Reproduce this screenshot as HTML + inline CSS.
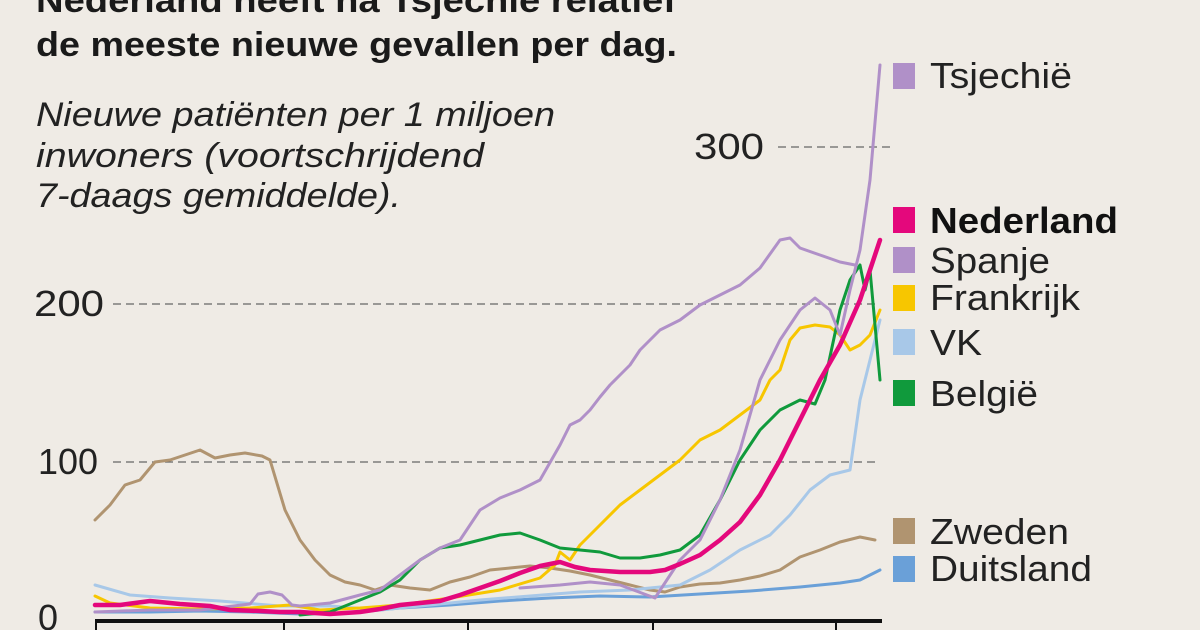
<!DOCTYPE html>
<html><head><meta charset="utf-8"><style>
body{margin:0;background:#efebe5;width:1200px;height:630px;overflow:hidden;font-family:"Liberation Sans",sans-serif}
</style></head><body>
<svg width="1200" height="630" viewBox="0 0 1200 630" xmlns="http://www.w3.org/2000/svg" style="position:absolute;left:0;top:0">
<rect width="1200" height="630" fill="#efebe5"/>
<g font-family="Liberation Sans, sans-serif" fill="#1a1a1a">
<text x="36" y="12" font-size="34" font-weight="bold" textLength="640" lengthAdjust="spacingAndGlyphs">Nederland heeft na Tsjechië relatief</text>
<text x="36" y="56" font-size="34" font-weight="bold" textLength="641" lengthAdjust="spacingAndGlyphs">de meeste nieuwe gevallen per dag.</text>
<g font-style="italic" font-size="34" fill="#222">
<text x="36" y="126" textLength="519" lengthAdjust="spacingAndGlyphs">Nieuwe patiënten per 1 miljoen</text>
<text x="36" y="167" textLength="448" lengthAdjust="spacingAndGlyphs">inwoners (voortschrijdend</text>
<text x="36" y="207" textLength="365" lengthAdjust="spacingAndGlyphs">7-daags gemiddelde).</text>
</g>
<g font-size="36" fill="#222">
<text x="694" y="159" textLength="70" lengthAdjust="spacingAndGlyphs">300</text>
<text x="34" y="316" textLength="70" lengthAdjust="spacingAndGlyphs">200</text>
<text x="38" y="474" textLength="60" lengthAdjust="spacingAndGlyphs">100</text>
<text x="38" y="630">0</text>
</g>
</g>
<g stroke="#666" stroke-width="1.3" stroke-dasharray="8,5" fill="none">
<line x1="778" y1="147" x2="892" y2="147"/>
<line x1="113" y1="304" x2="880" y2="304"/>
<line x1="113" y1="462" x2="880" y2="462"/>
</g>
<g fill="none" stroke-linejoin="round" stroke-linecap="round">
<polyline stroke="#b09470" stroke-width="3" points="95,520 110,505 125,485 140,480 155,462 170,460 185,455 200,450 215,458 230,455 245,453 262,456 270,460 285,510 300,540 315,560 330,575 345,582 360,585 375,590 390,585 410,588 430,590 450,582 470,577 490,570 510,568 530,566 550,568 570,571 590,575 610,580 630,585 650,590 665,592 680,587 700,584 720,583 740,580 760,576 780,570 800,557 820,550 840,542 860,537 875,540"/>
<polyline stroke="#6aa0d8" stroke-width="3" points="95,612 150,612 200,611 250,612 300,614 350,613 400,608 450,605 500,601 550,598 600,596 650,597 700,594 750,591 800,587 840,583 860,580 880,570"/>
<polyline stroke="#a8c8e8" stroke-width="3" points="95,585 130,595 170,598 220,601 280,606 330,606 380,610 430,605 480,600 530,596 580,592 630,590 680,585 710,570 740,550 770,535 790,515 810,490 830,475 850,470 860,400 870,360 880,320"/>
<polyline stroke="#f7c600" stroke-width="3" points="95,596 110,603 150,608 200,609 250,608 290,605 320,610 360,608 400,605 450,598 500,590 540,578 555,565 560,552 570,560 580,545 600,525 620,505 640,490 660,475 680,460 700,440 720,430 740,415 760,400 770,380 780,370 790,340 800,328 815,325 830,327 840,335 850,350 860,345 870,335 880,310"/>
<polyline stroke="#109a3c" stroke-width="3" points="300,615 330,612 360,600 380,592 400,580 420,560 440,548 460,545 480,540 500,535 520,533 540,540 560,548 580,550 600,552 620,558 640,558 660,555 680,550 700,535 720,500 740,460 760,430 780,410 800,400 815,404 825,380 840,310 850,280 860,265 865,290 870,270 880,380"/>
<polyline stroke="#b090c8" stroke-width="3" points="95,612 150,610 200,610 250,604 258,594 270,592 282,595 292,605 300,606 330,603 360,595 380,590 400,575 420,560 440,548 460,540 480,510 500,498 520,490 540,480 560,445 570,425 580,420 590,410 600,397 610,385 620,375 630,365 640,350 650,340 660,330 680,320 700,305 720,295 740,285 760,268 780,240 790,238 800,248 820,255 840,262 855,265"/>
<polyline stroke="#b090c8" stroke-width="3" points="520,588 560,585 590,582 620,585 655,598 680,560 700,540 720,500 740,450 760,380 780,340 800,310 815,298 830,310 840,335 850,290 860,250 870,180 880,65"/>
<polyline stroke="#e4087c" stroke-width="4.5" points="95,605 120,605 150,601 180,604 210,606 230,610 260,611 280,612 300,612 330,614 360,612 380,609 400,605 420,603 440,601 460,595 480,588 500,581 520,573 540,566 560,562 575,567 590,570 620,572 650,572 665,570 680,564 700,555 720,540 740,522 760,495 780,460 800,420 820,380 840,345 860,300 880,240"/>
</g>
<line x1="95" y1="621" x2="882" y2="621" stroke="#111" stroke-width="4"/>
<g stroke="#111" stroke-width="2">
<line x1="96" y1="621" x2="96" y2="630"/><line x1="284" y1="621" x2="284" y2="630"/><line x1="468" y1="621" x2="468" y2="630"/><line x1="653" y1="621" x2="653" y2="630"/><line x1="836" y1="621" x2="836" y2="630"/>
</g>
<g>
<rect x="893" y="63" width="22" height="26" fill="#b090c8"/>
<rect x="893" y="207" width="22" height="26" fill="#e4087c"/>
<rect x="893" y="247" width="22" height="26" fill="#b090c8"/>
<rect x="893" y="285" width="22" height="26" fill="#f7c600"/>
<rect x="893" y="329" width="22" height="26" fill="#a8c8e8"/>
<rect x="893" y="380" width="22" height="26" fill="#109a3c"/>
<rect x="893" y="518" width="22" height="26" fill="#b09470"/>
<rect x="893" y="556" width="22" height="26" fill="#6aa0d8"/>
</g>
<g font-family="Liberation Sans, sans-serif" font-size="36" fill="#222">
<text x="930" y="88" textLength="142" lengthAdjust="spacingAndGlyphs">Tsjechië</text>
<text x="930" y="233" font-weight="bold" fill="#111" textLength="188" lengthAdjust="spacingAndGlyphs">Nederland</text>
<text x="930" y="273" textLength="120" lengthAdjust="spacingAndGlyphs">Spanje</text>
<text x="930" y="310" textLength="150" lengthAdjust="spacingAndGlyphs">Frankrijk</text>
<text x="930" y="355" textLength="52" lengthAdjust="spacingAndGlyphs">VK</text>
<text x="930" y="406" textLength="108" lengthAdjust="spacingAndGlyphs">België</text>
<text x="930" y="544" textLength="139" lengthAdjust="spacingAndGlyphs">Zweden</text>
<text x="930" y="581" textLength="162" lengthAdjust="spacingAndGlyphs">Duitsland</text>
</g>
</svg>
</body></html>
